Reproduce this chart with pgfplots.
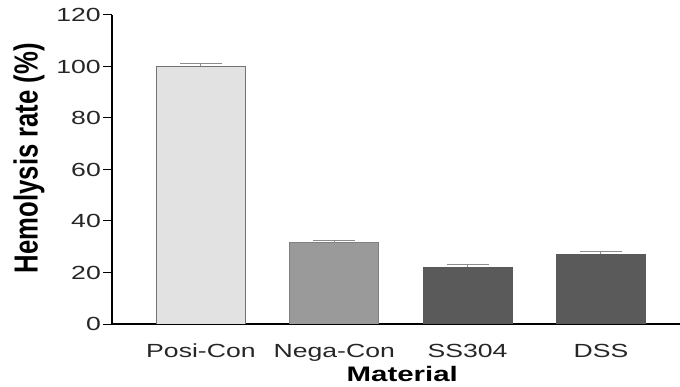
\documentclass[border=0pt]{standalone}
\usepackage{pgfplots}
\pgfplotsset{compat=1.18}
\usepackage{fontspec}
\setmainfont{Liberation Sans}[FakeStretch=1.4]
\newfontfamily\ylabfont{Liberation Sans}
\definecolor{posi}{HTML}{E2E2E2}
\definecolor{nega}{HTML}{9A9A9A}
\definecolor{dark}{HTML}{5A5A5A}
\begin{document}
\begin{tikzpicture}
\path[use as bounding box] (0,0) rectangle (680bp,387bp);
\begin{axis}[
  at={(112bp,63bp)}, anchor=south west,
  scale only axis=true,
  width=568bp, height=309bp,
  xmin=-0.667, xmax=3.593,
  ymin=0, ymax=120,
  ytick={0,20,...,120},
  xtick={0,1,2,3},
  xticklabels={Posi-Con,Nega-Con,SS304,DSS},
  axis lines*=left,
  axis line style={line width=1.1bp, black},
  tick align=outside,
  major tick length=9bp,
  y tick style={line width=1bp, black},
  x tick style={draw=none},
  /pgf/number format/assume math mode=true,
  tick label style={font=\fontsize{19bp}{22bp}\selectfont, text=black!85},
  yticklabel style={inner sep=2bp},
  xticklabel style={inner sep=0bp, yshift=-11bp},
  xlabel={\fontsize{21bp}{24bp}\selectfont\bfseries Material},
  xlabel style={at={(axis description cs:0.511,0)}, anchor=north, yshift=-42bp, inner sep=0pt},
  ylabel={\scalebox{1}[1.3]{\ylabfont\fontsize{25.7bp}{28bp}\selectfont\bfseries Hemolysis rate (\%)}},
  ylabel style={at={(axis description cs:-0.146,0.537)}, anchor=center, inner sep=0pt},
  ybar, bar width=89bp, bar shift=0pt,
  error bars/y dir=plus, error bars/y explicit,
  error bars/error mark options={rotate=90, mark size=21bp, line width=1bp, black!45},
  error bars/error bar style={line width=1bp, black!45},
]
\addplot[draw=black!55, line width=0.8bp, fill=posi] coordinates {(0,100) +- (0,1.0)};
\addplot[draw=black!50, line width=0.8bp, fill=nega] coordinates {(1,31.5) +- (0,1.1)};
\addplot[draw=black!65, line width=0.8bp, fill=dark] coordinates {(2,22.1) +- (0,1.2)};
\addplot[draw=black!65, line width=0.8bp, fill=dark] coordinates {(3,27.2) +- (0,1.1)};
\end{axis}
\end{tikzpicture}
\end{document}
